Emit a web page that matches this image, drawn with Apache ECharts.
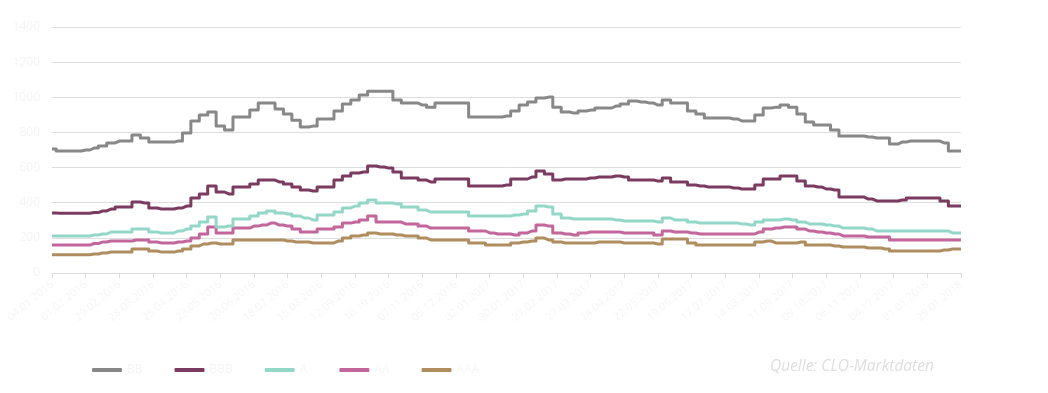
<!DOCTYPE html>
<html>
<head>
<meta charset="utf-8">
<script src="https://cdn.jsdelivr.net/npm/echarts@6/dist/echarts.min.js"></script>
<style>
html,body{margin:0;padding:0;background:#fff;}
#chart{width:1048px;height:393px;}
</style>
</head>
<body>
<div id="chart"></div>
<script>
const tickLabels = ["04.01.2016","01.02.2016","29.02.2016","28.03.2016","25.04.2016","23.05.2016","20.06.2016","18.07.2016","15.08.2016","12.09.2016","10.10.2016","07.11.2016","05.12.2016","02.01.2017","30.01.2017","27.02.2017","27.03.2017","24.04.2017","22.05.2017","19.06.2017","17.07.2017","14.08.2017","11.09.2017","09.10.2017","06.11.2017","04.12.2017","01.01.2018","29.01.2018"];
const seriesNames = ["BB","BBB","A","AA","AAA"];
const BB = [706,694,694,694,700,711,723,740,751,751,785,768,745,745,745,751,797,865,899,916,836,814,888,888,927,967,967,933,905,870,831,836,876,876,922,962,984,1013,1035,1035,1035,984,967,967,956,944,967,967,967,967,888,888,888,888,893,922,956,973,996,1001,944,916,910,922,927,939,939,950,962,979,973,967,956,984,967,967,922,905,882,882,882,876,865,865,899,939,944,956,944,905,859,842,842,814,780,780,780,774,768,768,734,745,751,751,751,751,740,694,694];
const BBB = [341,340,340,340,340,344,353,364,376,376,404,398,370,364,364,370,381,427,450,495,461,450,489,489,506,529,529,518,506,489,472,467,489,489,529,552,569,575,609,603,597,575,541,541,529,518,535,535,535,535,495,495,495,495,501,535,535,546,580,563,529,535,535,535,541,546,546,552,546,529,529,529,523,541,518,518,501,495,489,489,489,484,478,478,501,535,535,552,552,523,495,489,478,472,432,432,432,421,410,410,410,415,427,427,427,427,410,381,381];
const A = [211,211,211,211,211,216,222,233,233,233,250,250,233,228,228,239,250,267,290,319,262,267,307,307,324,341,353,341,336,324,313,302,330,330,347,370,381,398,415,398,398,393,376,376,358,347,347,347,347,347,324,324,324,324,324,330,336,353,381,376,336,313,307,307,307,307,307,302,296,296,296,296,290,313,302,302,290,284,284,284,284,284,279,273,290,302,302,307,302,290,279,279,273,267,256,256,256,250,239,239,239,239,239,239,239,239,239,228,228];
const AA = [159,159,159,159,159,168,176,182,182,182,188,188,176,171,171,176,182,199,222,262,228,228,256,256,267,273,284,273,267,250,233,233,250,250,262,284,290,302,324,290,290,290,279,279,267,256,256,256,256,256,239,239,228,222,222,216,228,239,273,267,228,222,216,228,233,233,233,233,228,228,228,228,216,239,233,233,228,222,222,222,222,222,222,222,233,250,256,262,262,250,239,233,228,222,211,211,211,205,205,205,188,188,188,188,188,188,188,188,188];
const AAA = [104,104,104,104,104,108,114,119,119,119,137,137,125,119,119,125,137,154,165,171,165,165,188,188,188,188,188,188,182,176,176,171,171,171,182,199,211,216,228,222,222,216,211,211,199,188,188,188,188,188,171,171,159,159,159,171,176,182,199,188,176,171,171,171,171,176,176,176,171,171,171,171,165,193,193,193,171,159,159,159,159,159,159,159,176,182,171,171,171,176,159,159,159,154,148,148,148,142,142,137,125,125,125,125,125,125,131,137,137];
const colors = ["#888888","#7b3a5f","#93d7c8","#c2669c","#af8d5e"];

const categories = BB.map((_, i) => i);
const allSeries = [BB, BBB, A, AA, AAA];

const chart = echarts.init(document.getElementById('chart'), null, {renderer:'canvas'});
chart.setOption({
  animation: false,
  backgroundColor: '#ffffff',
  color: colors,
  textStyle: {fontFamily: 'Open Sans'},
  grid: {left: 52, right: 87, top: 27, bottom: 120},
  legend: {
    left: 87, top: 359,
    icon: 'roundRect', itemWidth: 30, itemHeight: 4, itemGap: 32,
    textStyle: {color: '#f5f5f5', fontSize: 12},
    data: seriesNames
  },
  graphic: [{
    type: 'text', left: 770, top: 359,
    style: {text: 'Quelle: CLO-Marktdaten', fill: '#dedede', font: 'italic 15.5px "Open Sans"'}
  }],
  xAxis: {
    type: 'category', data: categories, boundaryGap: false,
    axisLine: {lineStyle: {color: '#dddddd'}},
    axisTick: {interval: 3, lineStyle: {color: '#dddddd'}, length: 5},
    axisLabel: {
      interval: 3, rotate: 40, color: '#f6f6f6', fontSize: 11, margin: 10,
      formatter: (v, i) => tickLabels[i / 4] || ''
    },
    splitLine: {show: false}
  },
  yAxis: {
    type: 'value', min: 0, max: 1400, interval: 200,
    axisLine: {show: false}, axisTick: {show: false},
    axisLabel: {color: '#f4f4f4', fontSize: 12, margin: 12, formatter: v => String(v)},
    splitLine: {lineStyle: {color: '#dddddd', width: 1}}
  },
  series: allSeries.map((d, k) => ({
    name: seriesNames[k], type: 'line', data: d, step: 'middle',
    symbol: 'none', lineStyle: {width: 3, color: colors[k], join: 'round'},
    z: 5 - k
  }))
});
</script>
</body>
</html>
